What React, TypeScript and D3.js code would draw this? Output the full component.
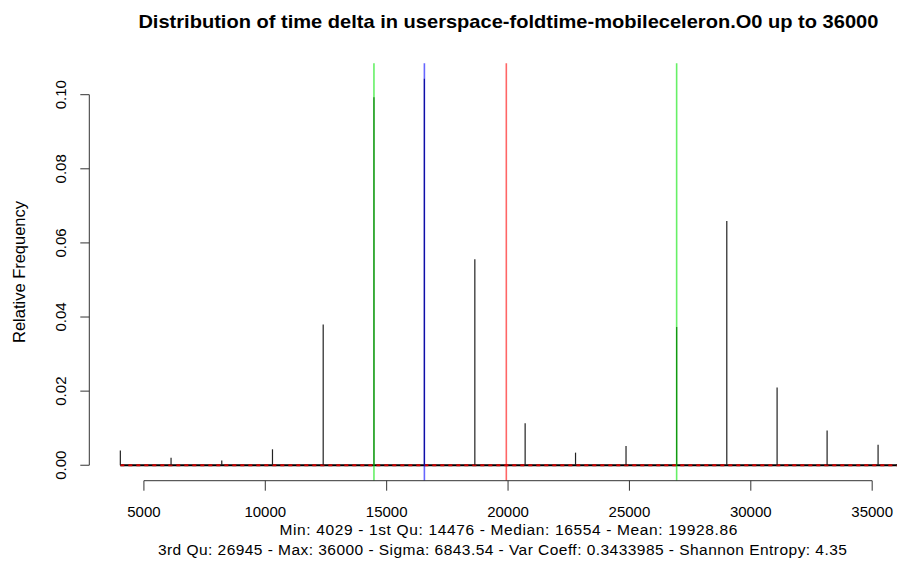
import React from "react";
import * as d3 from "d3";

const W = 897;
const H = 561;

// Data
const deltas = [4029, 6118, 8207, 10296, 12385, 14476, 16554, 18632, 20704, 22780, 24860, 26945, 29011, 31083, 33143, 35243, 36000];
const relFreq = [0.004, 0.002, 0.0013, 0.0043, 0.038, 0.0993, 0.1043, 0.0556, 0.0113, 0.0034, 0.0052, 0.0373, 0.0659, 0.021, 0.0094, 0.0055, 0.0003];
const xTicks = [5000, 10000, 15000, 20000, 25000, 30000, 35000];
const yTicks = [0, 0.02, 0.04, 0.06, 0.08, 0.1];
const statLines = [
  { value: 14476, color: "rgba(0,230,0,0.6)" },
  { value: 16554, color: "rgba(0,0,255,0.6)" },
  { value: 19928.86, color: "rgba(255,0,0,0.6)" },
  { value: 26945, color: "rgba(0,230,0,0.6)" },
];
const titleText = "Distribution of time delta in userspace-foldtime-mobileceleron.O0 up to 36000";
const subLine1 = "Min: 4029 - 1st Qu: 14476 - Median: 16554 - Mean: 19928.86";
const subLine2 = "3rd Qu: 26945 - Max: 36000 - Sigma: 6843.54 - Var Coeff: 0.3433985 - Shannon Entropy: 4.35";
const yLabel = "Relative Frequency";

const plot = { left: 89.3, right: 927.5, top: 63.3, bottom: 480.7 };

export default function App() {
  const xMin = d3.min(deltas)!;
  const xMax = d3.max(deltas)!;
  const xPad = (xMax - xMin) * 0.04;
  const x = d3.scaleLinear().domain([xMin - xPad, xMax + xPad]).range([plot.left, plot.right]);
  const yMaxV = d3.max(relFreq)!;
  const yPad = yMaxV * 0.04;
  const y = d3.scaleLinear().domain([-yPad, yMaxV + yPad]).range([plot.bottom, plot.top]);
  const cx = (plot.left + plot.right) / 2;
  const font = "'Liberation Sans', Arial, Helvetica, sans-serif";

  return (
    <svg width={W} height={H} style={{ position: "absolute", left: 0, top: 0, background: "#fff" }} fontFamily={font}>
      <rect x={0} y={0} width={W} height={H} fill="#fff" />
      <text x={cx} y={28} textAnchor="middle" fontSize={19} fontWeight="bold" fill="#000" textLength={740} lengthAdjust="spacingAndGlyphs">{titleText}</text>

      {/* baseline: solid black + red dashed */}
      <line x1={x(xMin)} x2={x(xMax) + 40} y1={y(0)} y2={y(0)} stroke="#000" strokeWidth={2} />
      <line x1={x(xMin)} x2={x(xMax) + 40} y1={y(0)} y2={y(0)} stroke="#d00000" strokeWidth={2} strokeDasharray="4,4" />

      {/* spikes */}
      {deltas.map((d, i) => (
        <line key={i} x1={x(d)} x2={x(d)} y1={y(0)} y2={y(relFreq[i])} stroke="#222" strokeWidth={1.2} />
      ))}

      {/* stat lines */}
      {statLines.map((s, i) => (
        <line key={i} x1={x(s.value)} x2={x(s.value)} y1={plot.top} y2={plot.bottom} stroke={s.color} strokeWidth={1.6} />
      ))}

      {/* y axis */}
      <line x1={plot.left} x2={plot.left} y1={y(0)} y2={y(0.1)} stroke="#333" strokeWidth={1} />
      {yTicks.map((t) => (
        <g key={t}>
          <line x1={plot.left - 9} x2={plot.left} y1={y(t)} y2={y(t)} stroke="#333" strokeWidth={1} />
          <text transform={`translate(65.5,${y(t)}) rotate(-90)`} textAnchor="middle" fontSize={15} fill="#000">
            {d3.format(".2f")(t)}
          </text>
        </g>
      ))}
      <text transform={`translate(24.5,${(plot.top + plot.bottom) / 2}) rotate(-90)`} textAnchor="middle" fontSize={16} fill="#000" textLength={142} lengthAdjust="spacingAndGlyphs">
        {yLabel}
      </text>

      {/* x axis */}
      <line x1={x(5000)} x2={x(35000)} y1={plot.bottom} y2={plot.bottom} stroke="#333" strokeWidth={1} />
      {xTicks.map((t) => (
        <g key={t}>
          <line x1={x(t)} x2={x(t)} y1={plot.bottom} y2={plot.bottom + 10} stroke="#333" strokeWidth={1} />
          <text x={x(t)} y={516.7} textAnchor="middle" fontSize={15} fill="#000">{t}</text>
        </g>
      ))}

      <text x={cx} y={535.3} textAnchor="middle" fontSize={15.5} fill="#000" textLength={458} lengthAdjust="spacing">{subLine1}</text>
      <text x={cx - 6} y={555} textAnchor="middle" fontSize={15.5} fill="#000" textLength={689} lengthAdjust="spacing">{subLine2}</text>
    </svg>
  );
}
